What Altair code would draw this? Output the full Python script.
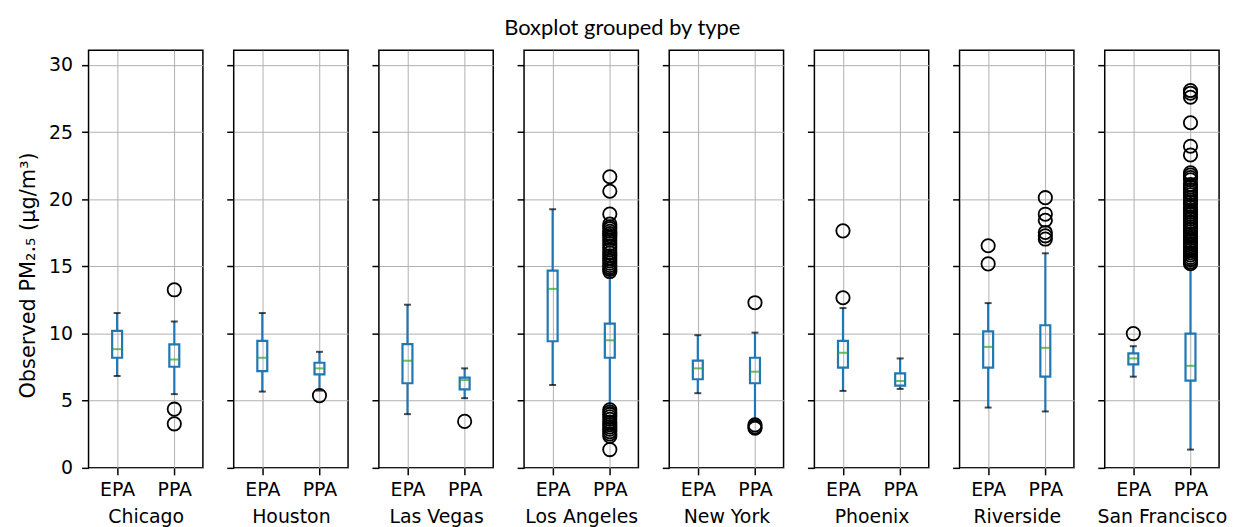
import altair as alt
import pandas as pd

cities = ["Chicago", "Houston", "Las Vegas", "Los Angeles", "New York",
          "Phoenix", "Riverside", "San Francisco"]
types = ["EPA", "PPA"]

# box statistics (one value per city)
epa_low = [6.84, 5.68, 4.00, 6.17, 5.56, 5.73, 4.49, 6.79]
epa_q1 = [8.20, 7.21, 6.30, 9.43, 6.60, 7.46, 7.46, 7.70]
epa_med = [8.84, 8.20, 7.98, 13.33, 7.41, 8.57, 9.01, 8.15]
epa_q3 = [10.20, 9.46, 9.21, 14.69, 7.98, 9.46, 10.17, 8.52]
epa_high = [11.53, 11.53, 12.15, 19.26, 9.88, 11.90, 12.27, 9.06]

ppa_low = [5.49, 5.75, 5.19, 4.50, 3.60, 5.88, 4.20, 1.36]
ppa_q1 = [7.53, 6.96, 5.85, 8.20, 6.30, 6.12, 6.79, 6.50]
ppa_med = [8.07, 7.41, 6.54, 9.50, 7.16, 6.47, 8.94, 7.60]
ppa_q3 = [9.20, 7.83, 6.72, 10.74, 8.20, 7.04, 10.62, 10.00]
ppa_high = [10.90, 8.64, 7.41, 14.40, 10.07, 8.15, 15.98, 15.10]

# outliers
chicago_ppa_out = [13.26, 4.37, 3.28]
houston_ppa_out = [5.38]
lasvegas_ppa_out = [3.46]
la_ppa_out = [21.68, 20.60, 18.90, 18.15, 17.95, 17.80, 17.62, 17.45, 17.30,
              17.12, 16.95, 16.70, 16.48, 16.25, 16.02, 15.80, 15.60, 15.42,
              15.25, 15.08, 14.92, 14.78, 14.62,
              4.32, 4.15, 3.98, 3.80, 3.62, 3.41, 3.22, 3.05, 2.88, 2.70,
              2.52, 2.36, 1.36]
newyork_ppa_out = [12.30, 3.20, 3.05, 2.95]
phoenix_epa_out = [17.65, 12.67]
riverside_epa_out = [16.54, 15.19]
riverside_ppa_out = [20.12, 18.89, 18.44, 17.53, 17.28, 17.04]
sf_epa_out = [10.00]
sf_ppa_out = [28.10, 27.90, 27.60, 25.70, 23.95, 23.30, 21.97, 21.80, 21.62,
              21.45, 21.10, 20.92, 20.71, 20.50, 20.33, 20.12, 19.95, 19.80,
              19.61, 19.40, 19.22, 19.05, 18.88, 18.70, 18.52, 18.31, 18.12,
              17.95, 17.77, 17.60, 17.42, 17.25, 17.08, 16.90, 16.71, 16.55,
              16.38, 16.20, 16.02, 15.85, 15.68, 15.50, 15.33, 15.20]

y_ticks = [0, 5, 10, 15, 20, 25, 30]

rows = []
for i, c in enumerate(cities):
    rows.append(dict(city=c, type="EPA", lo=epa_low[i], q1=epa_q1[i],
                     med=epa_med[i], q3=epa_q3[i], hi=epa_high[i]))
    rows.append(dict(city=c, type="PPA", lo=ppa_low[i], q1=ppa_q1[i],
                     med=ppa_med[i], q3=ppa_q3[i], hi=ppa_high[i]))
stats = pd.DataFrame(rows)

out_sets = [
    ("Chicago", "PPA", chicago_ppa_out),
    ("Houston", "PPA", houston_ppa_out),
    ("Las Vegas", "PPA", lasvegas_ppa_out),
    ("Los Angeles", "PPA", la_ppa_out),
    ("New York", "PPA", newyork_ppa_out),
    ("Phoenix", "EPA", phoenix_epa_out),
    ("Riverside", "EPA", riverside_epa_out),
    ("Riverside", "PPA", riverside_ppa_out),
    ("San Francisco", "EPA", sf_epa_out),
    ("San Francisco", "PPA", sf_ppa_out),
]
orows = []
for c, t, vals in out_sets:
    for v in vals:
        orows.append(dict(city=c, type=t, value=v))
outl = pd.DataFrame(orows)

BLUE = "#1f77b4"
GREEN = "#2ca02c"
FONT = "DejaVu Sans"

panels = []
for k, c in enumerate(cities):
    s = stats[stats.city == c]
    o = outl[outl.city == c]
    first = (k == 0)
    yaxis = alt.Axis(
        values=y_ticks,
        labels=first,
        title="Observed PM₂.₅ (μg/m³)" if first else "",
        tickSize=7, tickColor="black", tickWidth=1.5,
        labelFont=FONT, labelFontSize=19, labelColor="black", labelPadding=9,
        titleFont=FONT, titleFontSize=21, titleFontWeight="normal",
        titleColor="black", titlePadding=10, titleY=226,
        grid=True, domain=False,
    )
    yscale = alt.Scale(domain=[0, 31.1], nice=False, zero=False)
    xenc = alt.X("type:N",
                 scale=alt.Scale(domain=types, type="point", padding=0.5),
                 axis=alt.Axis(title=c, labelAngle=0, tickSize=7,
                               tickColor="black", tickWidth=1.5,
                               labelFont=FONT, labelFontSize=19,
                               labelColor="black", labelPadding=6,
                               titleFont=FONT, titleFontSize=19,
                               titleFontWeight="normal", titleColor="black",
                               titlePadding=8, grid=True, domain=False))
    base = alt.Chart(s)
    w_lo = base.mark_rule(color=BLUE, strokeWidth=2.2).encode(
        x=xenc, y=alt.Y("lo:Q", scale=yscale, axis=yaxis), y2="q1:Q")
    w_hi = base.mark_rule(color=BLUE, strokeWidth=2.2).encode(
        x=xenc, y=alt.Y("q3:Q", scale=yscale, axis=yaxis), y2="hi:Q")
    box = base.mark_bar(size=10, fillOpacity=0, stroke=BLUE,
                        strokeWidth=2.2).encode(
        x=xenc, y=alt.Y("q1:Q", scale=yscale, axis=yaxis), y2="q3:Q")
    med = base.mark_tick(color=GREEN, size=10, thickness=2).encode(
        x=xenc, y=alt.Y("med:Q", scale=yscale, axis=yaxis))
    cap_lo = base.mark_tick(color="black", size=7, thickness=2).encode(
        x=xenc, y=alt.Y("lo:Q", scale=yscale, axis=yaxis))
    cap_hi = base.mark_tick(color="black", size=7, thickness=2).encode(
        x=xenc, y=alt.Y("hi:Q", scale=yscale, axis=yaxis))
    layers = [w_lo, w_hi, box, med, cap_lo, cap_hi]
    if len(o):
        pts = alt.Chart(o).mark_point(shape="circle", filled=False,
                                      color="black", size=180,
                                      strokeWidth=1.8, opacity=1).encode(
            x=xenc, y=alt.Y("value:Q", scale=yscale, axis=yaxis))
        layers.append(pts)
    panel = alt.layer(*layers).properties(width=115, height=420)
    panels.append(panel)

chart = alt.hconcat(*panels, spacing=31, bounds="flush").properties(
    title=alt.TitleParams("Boxplot grouped by type", font="Lato",
                          fontSize=22, fontWeight="normal", color="black",
                          anchor="middle", offset=10),
    padding={"left": 9, "top": 7, "right": 5, "bottom": 0},
).configure_view(stroke="black", strokeWidth=1.5).configure_axis(
    gridColor="#b0b0b0", gridWidth=1, gridOpacity=1
)

chart.save("out.html", embed_options={"renderer": "svg", "actions": False})
